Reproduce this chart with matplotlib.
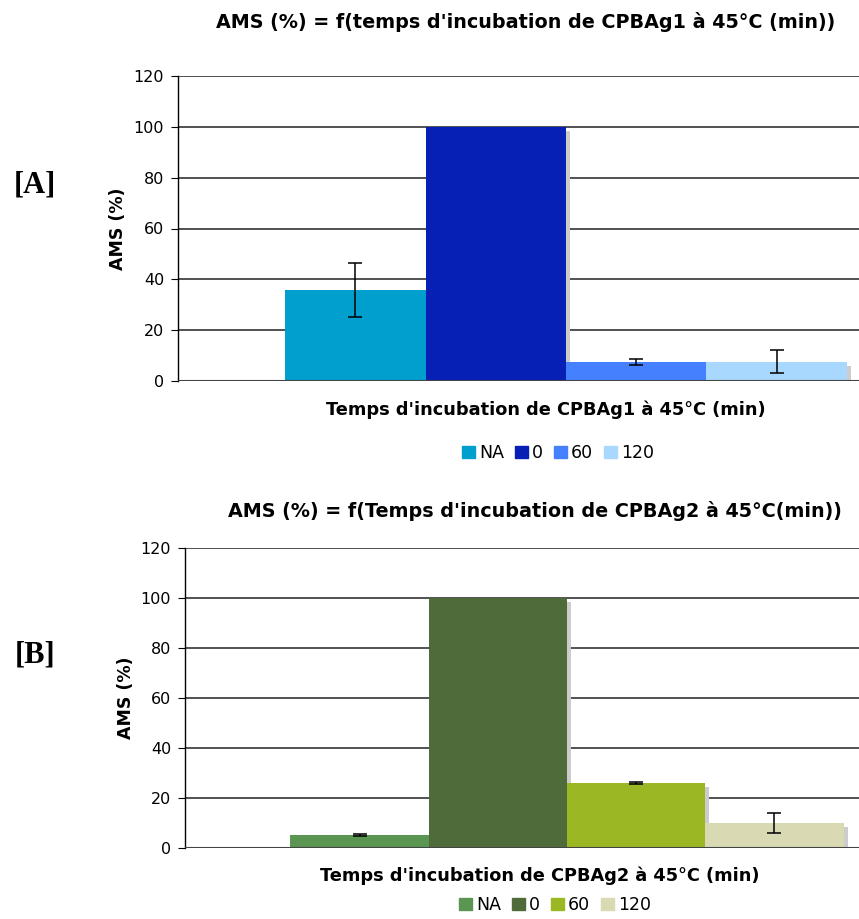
import numpy as np
import matplotlib
matplotlib.use("Agg")
import matplotlib.pyplot as plt
import matplotlib.patheffects as pe

plt.rcParams['font.family'] = ['DejaVu Sans']

# données
series = ['NA', '0', '60', '120']
ams_A = [35.8, 100, 7.6, 7.6]
err_A = [10.8, np.nan, 1.2, 4.5]
ams_B = [5.1, 100, 26.0, 10.2]
err_B = [0.4, np.nan, 0.3, 4.0]
cols_A = ['#009FCE', '#0620B5', '#4580FF', '#A9D8FF']
cols_B = ['#5A9651', '#506B3A', '#9BB824', '#D9DAB4']

titles = ["AMS (%) = f(temps d'incubation de CPBAg1 à 45°C (min))",
          "AMS (%) = f(Temps d'incubation de CPBAg2 à 45°C(min))"]
xlabels = ["Temps d'incubation de CPBAg1 à 45°C (min)",
           "Temps d'incubation de CPBAg2 à 45°C (min)"]
tags = ['[A]', '[B]']

W, H = 859, 919
fig = plt.figure(figsize=(W / 100, H / 100), dpi=100)

def box(l, t, r, b):
    # pixel box -> figure fraction
    return [l / W, 1 - b / H, (r - l) / W, (b - t) / H]

setup = [
    dict(pos=box(178, 76, 954, 381), vals=ams_A, errs=err_A, cols=cols_A,
         title_xy=(526, 22), xl_y=410, xl_x=546, leg=(558, 453), tag_y=185, yl=(118, 229)),
    dict(pos=box(185, 548, 949, 848), vals=ams_B, errs=err_B, cols=cols_B,
         title_xy=(535, 511), xl_y=876, xl_x=540, leg=(555, 905), tag_y=655, yl=(126, 698)),
]

bw = 0.181
for k, s in enumerate(setup):
    ax = fig.add_axes(s['pos'])
    x = (np.arange(4) - 1.5) * bw
    bars = ax.bar(x, s['vals'], width=bw, color=s['cols'], zorder=3)
    for b in bars:
        b.set_path_effects([pe.SimplePatchShadow(offset=(3, -3), shadow_rgbFace='0.8', alpha=1),
                            pe.Normal()])
    ax.errorbar(x, s['vals'], yerr=s['errs'], fmt='none', ecolor='black',
                elinewidth=1.1, capsize=5, capthick=1.1, zorder=4)
    ax.set_xlim(-0.5, 0.5)
    ax.set_ylim(0, 120)
    ax.set_yticks(range(0, 121, 20))
    ax.set_xticks([])
    ax.yaxis.grid(True, color='#222222', linewidth=1.1, zorder=0)
    for sp in ['top', 'right', 'bottom']:
        ax.spines[sp].set_visible(False)
    ax.spines['left'].set_linewidth(1)
    ax.axhline(0, color='#444444', linewidth=1.5, zorder=5)
    ax.tick_params(axis='y', direction='out', length=5, labelsize=11.5, pad=5)

    fig.text(s['yl'][0] / W, 1 - s['yl'][1] / H, 'AMS (%)', rotation=90,
             fontsize=12.5, fontweight='bold', ha='center', va='center')
    fig.text(s['title_xy'][0] / W, 1 - s['title_xy'][1] / H, titles[k],
             fontsize=13.8, fontweight='bold', ha='center', va='center')
    fig.text(s['xl_x'] / W, 1 - s['xl_y'] / H, xlabels[k], fontsize=12.8,
             fontweight='bold', ha='center', va='center')
    fig.text(35 / W, 1 - s['tag_y'] / H, tags[k], fontsize=22, fontweight='bold',
             family='Liberation Serif', ha='center', va='center')

    handles = [plt.Rectangle((0, 0), 1, 1, color=c) for c in s['cols']]
    fig.legend(handles, series, loc='center',
               bbox_to_anchor=(s['leg'][0] / W, 1 - s['leg'][1] / H),
               ncol=4, frameon=False, fontsize=12.5, handlelength=0.75, handleheight=0.75,
               handletextpad=0.25, columnspacing=0.6)

fig.savefig('out.png', dpi=100)
